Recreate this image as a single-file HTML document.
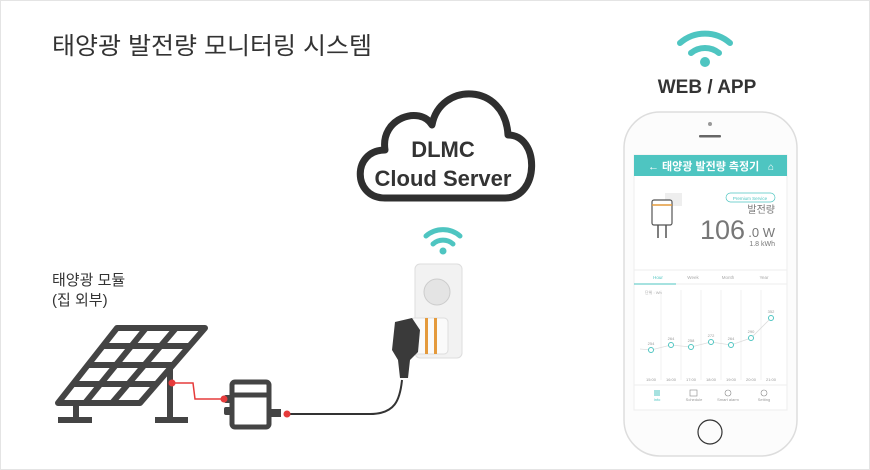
<!DOCTYPE html>
<html><head><meta charset="utf-8"><style>
body{margin:0;width:870px;height:470px;overflow:hidden;background:#fff}
svg{display:block}
text{font-family:"Liberation Sans","Noto Sans CJK KR",sans-serif}
</style></head><body>
<svg width="870" height="470" viewBox="0 0 870 470">
<rect x="0.5" y="0.5" width="869" height="469" fill="#fff" stroke="#e4e4e4"/>
<text x="52" y="54" font-size="24" fill="#333" textLength="320" lengthAdjust="spacingAndGlyphs">태양광 발전량 모니터링 시스템</text>
<text x="52" y="285" font-size="15" fill="#333">태양광 모듈</text>
<text x="52" y="305" font-size="15" fill="#333">(집 외부)</text>

<!-- cloud -->
<path d="M385,198 C352,198 352,150 385,150 C380,118 420,105 432,125 C440,82 505,82 508,135 C540,135 540,198 505,198 Z" fill="#fff" stroke="#2f2f2f" stroke-width="7" stroke-linejoin="round"/>
<text x="443" y="157" font-size="22" font-weight="bold" fill="#333" text-anchor="middle">DLMC</text>
<text x="443" y="186" font-size="22" font-weight="bold" fill="#333" text-anchor="middle">Cloud Server</text>

<!-- wifi icons -->
<g fill="none" stroke="#4ec5c1" stroke-linecap="round">
<path d="M426,236 A26,26 0 0 1 460,236" stroke-width="5"/>
<path d="M433,244 A15,15 0 0 1 453,244" stroke-width="5"/>
<path d="M680,43 A38,38 0 0 1 730,43" stroke-width="6"/>
<path d="M691,53 A22,22 0 0 1 719,53" stroke-width="6"/>
</g>
<circle cx="443" cy="251" r="3.5" fill="#4ec5c1"/>
<circle cx="705" cy="62" r="5" fill="#4ec5c1"/>
<text x="707" y="93" font-size="19" font-weight="bold" fill="#333" text-anchor="middle">WEB / APP</text>

<!-- solar panel -->
<g stroke="#444" stroke-width="6" fill="none" stroke-linejoin="round">
<path d="M117,328 L205,328 L140,403 L58,403 Z"/>
<path d="M146,328 L85,403 M176,328 L112,403"/>
<path d="M102,346 L189,346 M88,365 L173,365 M73,384 L156,384"/>
<path d="M170,365 L170,420 M155,420 L188,420 M76,403 L76,420 M58,420 L92,420"/>
</g>
<!-- wires -->
<path d="M172,383 L193,383 L195,399 L224,399" fill="none" stroke="#e63b3b" stroke-width="1.5"/>
<circle cx="172" cy="383" r="3.5" fill="#e63b3b"/>
<path d="M288,414 L370,414 C395,414 400,400 402,380" fill="none" stroke="#333" stroke-width="2"/>
<!-- inverter -->
<g stroke="#444" stroke-width="5" fill="#fff">
<rect x="232" y="382" width="37" height="45" rx="3"/>
<line x1="232" y1="395" x2="269" y2="395"/>
</g>
<rect x="224" y="395" width="8" height="8" rx="2" fill="#444"/>
<rect x="224" y="407" width="8" height="8" rx="2" fill="#444"/>
<rect x="269" y="409" width="12" height="8" fill="#444"/>
<circle cx="224" cy="399" r="3.5" fill="#e63b3b"/>
<circle cx="287" cy="414" r="3.5" fill="#e63b3b"/>

<!-- outlet -->
<rect x="415" y="264" width="47" height="94" rx="5" fill="#f2f2f2" stroke="#ddd"/>
<circle cx="437" cy="292" r="13" fill="#e4e4e4" stroke="#ccc"/>
<rect x="410" y="318" width="38" height="36" rx="4" fill="#fafafa" stroke="#ddd"/>
<rect x="425" y="318" width="3" height="36" fill="#e49a3c"/>
<rect x="434" y="318" width="3" height="36" fill="#e49a3c"/>
<path d="M395,322 L412,318 L420,330 L418,352 L410,360 L408,378 L400,378 L398,360 L392,350 Z" fill="#3a3a3a"/>

<!-- phone -->
<rect x="624" y="112" width="173" height="344" rx="36" fill="#fcfcfc" stroke="#ddd" stroke-width="1.5"/>
<circle cx="710" cy="124" r="2" fill="#999"/>
<rect x="699" y="135" width="22" height="2.5" rx="1" fill="#666"/>
<rect x="634" y="155" width="153" height="255" fill="#fff" stroke="#eee"/>
<rect x="634" y="155" width="153" height="21" fill="#4ec5c1"/>
<text x="648" y="170" font-size="11" font-weight="bold" fill="#fff">← 태양광 발전량 측정기</text>
<text x="768" y="170" font-size="10" fill="#fff">⌂</text>
<rect x="726" y="193" width="49" height="9" rx="4.5" fill="#fff" stroke="#4ec5c1" stroke-width="0.7"/>
<text x="750" y="200" font-size="4.5" fill="#4ec5c1" text-anchor="middle">Premium Service</text>
<text x="775" y="213" font-size="10" fill="#777" text-anchor="end">발전량</text>
<text x="745" y="239" font-size="27" fill="#777" text-anchor="end">106</text>
<text x="775" y="237" font-size="13" fill="#777" text-anchor="end">.0 W</text>
<text x="775" y="246" font-size="7" fill="#777" text-anchor="end">1.8 kWh</text>
<rect x="665" y="193" width="17" height="13" fill="#eee"/>
<rect x="652" y="200" width="20" height="25" rx="2" fill="#fff" stroke="#555" stroke-width="1.2"/>
<line x1="652" y1="205" x2="672" y2="205" stroke="#e49a3c" stroke-width="1.5"/>
<path d="M658,225 V238 M666,225 V238" stroke="#555" stroke-width="1.5"/>
<line x1="634" y1="270" x2="787" y2="270" stroke="#eee"/>
<g font-size="4.5" fill="#aaa" text-anchor="middle"><text x="658" y="279" fill="#4ec5c1">Hour</text><text x="693" y="279">Week</text><text x="728" y="279">Month</text><text x="764" y="279">Year</text></g>
<line x1="634" y1="284" x2="787" y2="284" stroke="#eee"/>
<line x1="634" y1="284" x2="676" y2="284" stroke="#4ec5c1" stroke-width="1"/>
<g stroke="#f0f0f0"><path d="M661,290V380M681,290V380M701,290V380M721,290V380M741,290V380M761,290V380"/></g>
<text x="645" y="294" font-size="4" fill="#aaa">단위 : Wh</text>
<polyline points="640,349 651,350 671,345 691,347 711,342 731,345 751,338 771,318" fill="none" stroke="#ddd" stroke-width="0.8"/>
<g fill="#fff" stroke="#4ec5c1" stroke-width="1"><circle cx="651" cy="350" r="2.5"/><circle cx="671" cy="345" r="2.5"/><circle cx="691" cy="347" r="2.5"/><circle cx="711" cy="342" r="2.5"/><circle cx="731" cy="345" r="2.5"/><circle cx="751" cy="338" r="2.5"/><circle cx="771" cy="318" r="2.5"/></g>
<g font-size="4" fill="#999" text-anchor="middle"><text x="651" y="345">254</text><text x="671" y="340">264</text><text x="691" y="342">258</text><text x="711" y="337">272</text><text x="731" y="340">264</text><text x="751" y="333">290</text><text x="771" y="313">352</text>
<text x="651" y="381">15:00</text><text x="671" y="381">16:00</text><text x="691" y="381">17:00</text><text x="711" y="381">18:00</text><text x="731" y="381">19:00</text><text x="751" y="381">20:00</text><text x="771" y="381">21:00</text></g>
<line x1="634" y1="385" x2="787" y2="385" stroke="#eee"/>
<g font-size="4" fill="#999" text-anchor="middle"><text x="657" y="401" fill="#4ec5c1">Info</text><text x="694" y="401">Schedule</text><text x="728" y="401">Smart alarm</text><text x="764" y="401">Setting</text></g>
<rect x="654" y="390" width="6" height="6" fill="#4ec5c1" opacity="0.5"/>
<rect x="690" y="390" width="7" height="6" fill="none" stroke="#888" stroke-width="0.6"/>
<circle cx="728" cy="393" r="3" fill="none" stroke="#888" stroke-width="0.6"/>
<circle cx="764" cy="393" r="3" fill="none" stroke="#888" stroke-width="0.6"/>
<circle cx="710" cy="432" r="12" fill="none" stroke="#333" stroke-width="1.2"/>
</svg>
</body></html>
